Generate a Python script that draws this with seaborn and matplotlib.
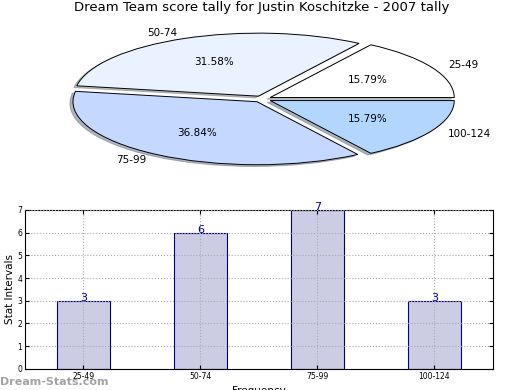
import matplotlib
matplotlib.use("Agg")
import matplotlib.pyplot as plt
import seaborn as sns
import pandas as pd

intervals = ['25-49', '50-74', '75-99', '100-124']
counts = [3, 6, 7, 3]
pie_colors = ['#FFFFFF', '#EAF1FF', '#C5D8FF', '#B3D6FF']
title = "Dream Team score tally for Justin Koschitzke - 2007 tally"

sns.set_style("white")
plt.rcParams['font.family'] = ['DejaVu Sans']
plt.rcParams['text.color'] = 'black'
plt.rcParams['axes.labelcolor'] = 'black'
plt.rcParams['xtick.color'] = 'black'
plt.rcParams['ytick.color'] = 'black'

fig = plt.figure(figsize=(5.2, 3.9), dpi=100)

# pie on top, squashed into a wide ellipse
ax1 = fig.add_axes([0.0615, 0.544, 0.885, 0.404])
wedges, texts, autotexts = ax1.pie(
    counts, labels=intervals, colors=pie_colors, autopct='%.2f%%',
    explode=[0.05] * 4, startangle=0,
    shadow={'ox': -0.012, 'oy': -0.02, 'shade': 0.5},
    wedgeprops={'edgecolor': 'black', 'linewidth': 0.7},
    textprops={'fontsize': 7.5})
ax1.set_aspect('auto')
ax1.set_xlim(-1.25, 1.25)
ax1.set_ylim(-1.25, 1.25)
ax1.set_title(title, fontsize=9.5, pad=7)

# bar chart below
ax2 = fig.add_axes([0.048, 0.054, 0.9, 0.408])
df = pd.DataFrame({'interval': intervals, 'count': counts})
sns.barplot(data=df, x='interval', y='count', color='#CCCCE5', saturation=1,
            edgecolor='#000080', linewidth=0.8, width=0.45, ax=ax2, zorder=2)
for i, v in enumerate(counts):
    ax2.text(i, v + 0.12, str(v), ha='center', va='center', color='#000080',
             fontsize=8, zorder=3)
ax2.set_xlim(-0.5, 3.5)
ax2.set_ylim(0, 7)
ax2.set_yticks(range(8))
ax2.grid(True, linestyle=':', color='#aaaaaa', linewidth=0.8)
ax2.set_axisbelow(False)
for s in ax2.spines.values():
    s.set_color('black')
    s.set_linewidth(0.8)
ax2.tick_params(axis='both', labelsize=5.5, direction='in', length=3,
                right=True, top=True, left=True, bottom=True, pad=2)
ax2.set_ylabel('Stat Intervals', fontsize=7.5, labelpad=2)
ax2.set_xlabel('Frequency', fontsize=7.5, labelpad=4)

fig.text(0.0, 0.012, 'Dream-Stats.com', color='#999999', fontsize=8,
         fontweight='bold', alpha=0.9)

fig.savefig('out.png', dpi=100)
